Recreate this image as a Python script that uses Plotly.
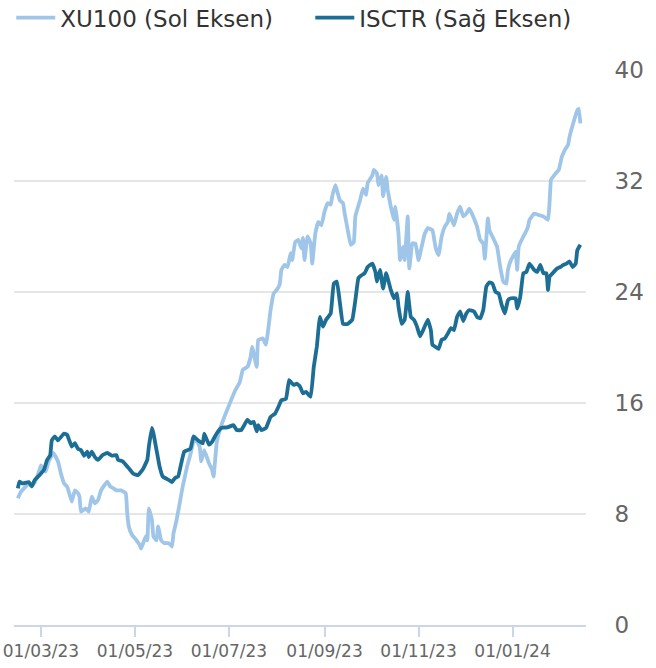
import plotly.graph_objects as go

# ---- Data ----
xu100_dates = [
    "2023-02-14", "2023-02-16", "2023-02-19", "2023-02-21", "2023-02-23", "2023-02-25", "2023-02-27",
    "2023-03-01", "2023-03-04", "2023-03-06", "2023-03-09", "2023-03-12", "2023-03-14", "2023-03-16",
    "2023-03-18", "2023-03-20", "2023-03-21", "2023-03-23", "2023-03-25", "2023-03-26", "2023-03-27",
    "2023-03-30", "2023-04-01", "2023-04-03", "2023-04-05", "2023-04-07", "2023-04-09", "2023-04-13",
    "2023-04-15", "2023-04-17", "2023-04-19", "2023-04-22", "2023-04-25", "2023-04-26", "2023-04-27",
    "2023-04-29", "2023-05-02", "2023-05-04", "2023-05-05", "2023-05-08", "2023-05-09", "2023-05-10",
    "2023-05-12", "2023-05-13", "2023-05-15", "2023-05-16", "2023-05-18", "2023-05-20", "2023-05-23",
    "2023-05-25", "2023-05-26", "2023-05-28", "2023-05-30", "2023-06-01", "2023-06-04", "2023-06-06",
    "2023-06-08", "2023-06-10", "2023-06-12", "2023-06-13", "2023-06-15", "2023-06-18", "2023-06-20",
    "2023-06-21", "2023-06-23", "2023-06-25", "2023-06-28", "2023-07-02", "2023-07-05", "2023-07-08",
    "2023-07-10", "2023-07-13", "2023-07-15", "2023-07-16", "2023-07-19", "2023-07-20", "2023-07-23",
    "2023-07-25", "2023-07-28", "2023-07-30", "2023-08-01", "2023-08-03", "2023-08-04", "2023-08-06",
    "2023-08-08", "2023-08-10", "2023-08-11", "2023-08-13", "2023-08-15", "2023-08-17", "2023-08-18",
    "2023-08-19", "2023-08-21", "2023-08-23", "2023-08-24", "2023-08-26", "2023-08-28", "2023-08-30",
    "2023-09-01", "2023-09-03", "2023-09-05", "2023-09-06", "2023-09-08", "2023-09-09", "2023-09-11",
    "2023-09-13", "2023-09-14", "2023-09-16", "2023-09-18", "2023-09-20", "2023-09-21", "2023-09-24",
    "2023-09-26", "2023-09-28", "2023-09-29", "2023-10-02", "2023-10-03", "2023-10-05", "2023-10-06",
    "2023-10-08", "2023-10-09", "2023-10-11", "2023-10-12", "2023-10-14", "2023-10-16", "2023-10-17",
    "2023-10-19", "2023-10-20", "2023-10-22", "2023-10-23", "2023-10-25", "2023-10-26", "2023-10-28",
    "2023-10-30", "2023-11-01", "2023-11-03", "2023-11-05", "2023-11-07", "2023-11-10", "2023-11-12",
    "2023-11-14", "2023-11-16", "2023-11-18", "2023-11-20", "2023-11-21", "2023-11-24", "2023-11-26",
    "2023-11-28", "2023-11-30", "2023-12-02", "2023-12-04", "2023-12-07", "2023-12-09", "2023-12-11",
    "2023-12-13", "2023-12-14", "2023-12-16", "2023-12-17", "2023-12-20", "2023-12-22", "2023-12-24",
    "2023-12-26", "2023-12-28", "2023-12-29", "2023-12-31", "2024-01-03", "2024-01-04", "2024-01-05",
    "2024-01-08", "2024-01-09", "2024-01-11", "2024-01-12", "2024-01-15", "2024-01-18", "2024-01-21",
    "2024-01-24", "2024-01-25", "2024-01-26", "2024-01-29", "2024-01-31", "2024-02-02", "2024-02-04",
    "2024-02-06", "2024-02-07", "2024-02-10", "2024-02-12", "2024-02-13", "2024-02-14",
]
xu100_values = [
    9.13, 9.6, 9.97, 10.2, 9.97, 10.3, 10.8,
    11.5, 11.05, 11.8, 12.4, 11.8, 10.9, 10.2,
    9.97, 9.25, 8.9, 9.7, 9.5, 9.25, 8.17,
    8.4, 8.17, 9.25, 8.77, 9.0, 9.7, 10.33,
    9.97, 9.85, 9.7, 9.7, 9.5, 8.02, 7.1,
    6.5, 6.1, 5.77, 5.5, 6.4, 6.1, 8.4,
    7.57, 6.37, 6.1, 7.1, 6.1, 5.9, 5.9,
    5.65, 6.6, 7.57, 8.77, 10.0, 11.5, 12.3,
    13.2, 13.3, 12.85, 11.8, 12.6, 11.65, 11.2,
    10.7, 13.1, 14.05, 15.0, 16.1, 16.9, 17.5,
    18.4, 18.6, 19.3, 20.05, 18.6, 20.55, 20.65,
    20.2, 22.7, 23.9, 24.15, 24.6, 25.6, 25.95,
    25.8, 26.8, 26.3, 27.6, 27.75, 27.15, 27.9,
    26.3, 28.0, 27.5, 26.05, 28.2, 29.05, 28.8,
    29.8, 30.4, 30.3, 30.9, 31.7, 31.35, 30.6,
    30.4, 29.7, 28.5, 27.4, 27.6, 29.45, 30.6,
    31.45, 31.0, 31.85, 32.4, 32.8, 32.55, 31.7,
    32.4, 30.9, 32.3, 31.35, 30.15, 29.2, 30.15,
    28.2, 26.3, 27.25, 26.3, 29.45, 25.7, 27.5,
    27.5, 26.3, 27.25, 28.2, 28.6, 28.45, 27.25,
    26.65, 28.0, 28.7, 29.05, 29.65, 28.8, 29.65,
    30.15, 29.45, 29.65, 30.0, 29.3, 28.7, 27.75,
    27.5, 26.4, 29.3, 28.45, 27.75, 27.25, 25.8,
    24.75, 24.6, 25.6, 26.3, 26.9, 25.6, 27.25,
    28.0, 28.2, 28.7, 29.2, 29.65, 29.55, 29.45,
    29.2, 30.4, 32.1, 32.55, 32.8, 33.75, 34.25,
    34.6, 35.2, 36.4, 37.1, 37.2, 36.15,
]

isctr_dates = [
    "2023-02-14", "2023-02-15", "2023-02-17", "2023-02-21", "2023-02-23", "2023-02-25", "2023-02-28",
    "2023-03-03", "2023-03-05", "2023-03-07", "2023-03-08", "2023-03-10", "2023-03-12", "2023-03-16",
    "2023-03-18", "2023-03-21", "2023-03-23", "2023-03-25", "2023-03-27", "2023-03-29", "2023-03-31",
    "2023-04-01", "2023-04-03", "2023-04-05", "2023-04-07", "2023-04-10", "2023-04-13", "2023-04-16",
    "2023-04-19", "2023-04-20", "2023-04-23", "2023-04-27", "2023-04-30", "2023-05-03", "2023-05-06",
    "2023-05-09", "2023-05-10", "2023-05-12", "2023-05-13", "2023-05-15", "2023-05-17", "2023-05-19",
    "2023-05-23", "2023-05-25", "2023-05-27", "2023-05-29", "2023-05-31", "2023-06-02", "2023-06-06",
    "2023-06-08", "2023-06-11", "2023-06-14", "2023-06-15", "2023-06-18", "2023-06-20", "2023-06-23",
    "2023-06-26", "2023-06-30", "2023-07-04", "2023-07-06", "2023-07-09", "2023-07-13", "2023-07-15",
    "2023-07-17", "2023-07-19", "2023-07-20", "2023-07-22", "2023-07-25", "2023-07-28", "2023-07-31",
    "2023-08-02", "2023-08-04", "2023-08-07", "2023-08-09", "2023-08-12", "2023-08-14", "2023-08-16",
    "2023-08-18", "2023-08-20", "2023-08-23", "2023-08-25", "2023-08-27", "2023-08-29", "2023-08-31",
    "2023-09-02", "2023-09-05", "2023-09-07", "2023-09-09", "2023-09-11", "2023-09-13", "2023-09-16",
    "2023-09-19", "2023-09-21", "2023-09-23", "2023-09-25", "2023-09-27", "2023-09-29", "2023-10-02",
    "2023-10-04", "2023-10-05", "2023-10-07", "2023-10-09", "2023-10-11", "2023-10-14", "2023-10-16",
    "2023-10-18", "2023-10-19", "2023-10-21", "2023-10-23", "2023-10-25", "2023-10-27", "2023-10-29",
    "2023-10-31", "2023-11-02", "2023-11-04", "2023-11-07", "2023-11-09", "2023-11-10", "2023-11-12",
    "2023-11-14", "2023-11-16", "2023-11-18", "2023-11-20", "2023-11-22", "2023-11-24", "2023-11-26",
    "2023-11-28", "2023-11-30", "2023-12-02", "2023-12-04", "2023-12-07", "2023-12-09", "2023-12-11",
    "2023-12-13", "2023-12-15", "2023-12-17", "2023-12-19", "2023-12-21", "2023-12-23", "2023-12-25",
    "2023-12-27", "2023-12-29", "2023-12-31", "2024-01-03", "2024-01-04", "2024-01-06", "2024-01-08",
    "2024-01-10", "2024-01-12", "2024-01-15", "2024-01-17", "2024-01-19", "2024-01-21", "2024-01-23",
    "2024-01-24", "2024-01-25", "2024-01-27", "2024-01-30", "2024-02-01", "2024-02-03", "2024-02-05",
    "2024-02-07", "2024-02-09", "2024-02-11", "2024-02-12", "2024-02-14",
]
isctr_values = [
    9.85, 10.33, 10.2, 10.3, 10.0, 10.45, 10.8,
    11.2, 11.9, 12.25, 13.3, 13.6, 13.3, 13.8,
    13.7, 12.85, 13.1, 12.7, 12.6, 12.2, 12.5,
    12.1, 12.5, 12.1, 11.9, 12.25, 12.4, 12.2,
    12.25, 11.9, 11.8, 11.3, 10.9, 10.8, 11.2,
    11.9, 12.85, 14.2, 13.8, 12.6, 11.4, 10.7,
    10.45, 10.3, 10.6, 10.7, 11.65, 12.5, 12.7,
    13.6, 13.3, 13.1, 13.8, 13.0, 13.2, 13.8,
    14.2, 14.25, 14.4, 14.05, 14.05, 14.8, 14.55,
    14.65, 13.95, 14.4, 14.05, 14.2, 15.0, 15.25,
    15.7, 16.2, 16.3, 17.65, 17.3, 17.4, 17.2,
    16.7, 16.8, 16.45, 18.6, 20.05, 22.2, 21.5,
    22.0, 22.45, 24.6, 24.75, 23.2, 21.7, 21.7,
    22.0, 23.4, 25.0, 25.2, 25.35, 25.8, 26.05,
    25.45, 24.75, 25.6, 24.25, 25.35, 24.15, 23.55,
    23.9, 22.95, 21.7, 22.0, 24.0, 22.2, 22.0,
    21.5, 20.8, 21.25, 22.0, 21.25, 20.2, 20.05,
    19.9, 20.55, 20.65, 21.0, 21.4, 21.25, 22.2,
    22.6, 21.9, 22.45, 22.7, 22.6, 22.2, 22.1,
    22.7, 24.4, 24.7, 24.6, 24.0, 23.9, 23.05,
    22.45, 23.4, 23.55, 23.55, 22.8, 23.65, 25.35,
    25.45, 26.05, 25.6, 25.45, 25.95, 25.35, 25.35,
    24.15, 25.1, 25.35, 25.7, 25.8, 25.95, 26.05,
    26.2, 25.8, 26.05, 27.0, 27.4,
]

series_names = ["XU100 (Sol Eksen)", "ISCTR (Sağ Eksen)"]
series_colors = ["#9fc5e8", "#1c6e95"]

x_tick_vals = ["2023-03-01", "2023-05-01", "2023-07-01", "2023-09-01", "2023-11-01", "2024-01-01"]
x_tick_text = ["01/03/23", "01/05/23", "01/07/23", "01/09/23", "01/11/23", "01/01/24"]
y_tick_vals = [0, 8, 16, 24, 32, 40]

FONT = "DejaVu Sans"
LEGEND_FONT = dict(family=FONT, size=23, color="#333333")

fig = go.Figure()
fig.add_trace(go.Scatter(
    x=xu100_dates, y=xu100_values, mode="lines", name=series_names[0], legend="legend",
    line=dict(color=series_colors[0], width=3.8, shape="spline", smoothing=0.3),
))
fig.add_trace(go.Scatter(
    x=isctr_dates, y=isctr_values, mode="lines", name=series_names[1], legend="legend2",
    line=dict(color=series_colors[1], width=3.8, shape="spline", smoothing=0.3),
))

fig.update_layout(
    width=656, height=668,
    margin=dict(l=14, r=70, t=70, b=43, autoexpand=False),
    paper_bgcolor="white", plot_bgcolor="white",
    font=dict(family=FONT, color="#666666"),
    showlegend=True, hovermode=False,
    legend=dict(
        orientation="h", xref="container", yref="paper",
        x=0.0172, xanchor="left", y=1.133, yanchor="top",
        font=LEGEND_FONT, itemwidth=39, bgcolor="rgba(0,0,0,0)",
    ),
    legend2=dict(
        orientation="h", xref="container", yref="paper",
        x=0.473, xanchor="left", y=1.133, yanchor="top",
        font=LEGEND_FONT, itemwidth=39, bgcolor="rgba(0,0,0,0)",
    ),
    xaxis=dict(
        type="date", range=["2023-02-11 12:00", "2024-02-17 16:00"],
        tickmode="array", tickvals=x_tick_vals, ticktext=x_tick_text,
        ticks="outside", ticklen=10, tickcolor="#ccd6eb", tickwidth=2,
        showline=True, linecolor="#ccd6eb", linewidth=2,
        showgrid=False, zeroline=False, ticklabeloverflow="allow",
        tickfont=dict(family=FONT, size=17, color="#666666"),
    ),
    yaxis=dict(
        side="right", range=[0, 40], tickmode="array", tickvals=y_tick_vals,
        showgrid=True, gridcolor="#e6e6e6", gridwidth=2,
        zeroline=False, showline=False, ticklabeloverflow="allow",
        ticks="outside", ticklen=23, tickcolor="rgba(0,0,0,0)",
        tickfont=dict(family=FONT, size=23, color="#666666"),
    ),
)

fig.write_html(
    "out.html",
    config={"displayModeBar": False, "staticPlot": True},
    post_script="document.body.style.margin='0px';",
)
